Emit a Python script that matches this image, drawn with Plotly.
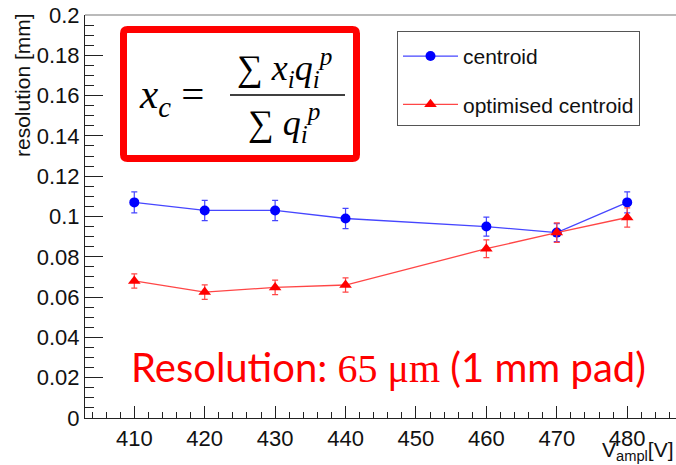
import plotly.graph_objects as go

# ---- data ----
voltage = [410, 420, 430, 440, 460, 470, 480]
centroid = [0.107, 0.103, 0.103, 0.099, 0.095, 0.092, 0.107]
centroid_err = [0.0052, 0.005, 0.005, 0.005, 0.0047, 0.0045, 0.0052]
optimised = [0.068, 0.0625, 0.0648, 0.066, 0.084, 0.092, 0.0995]
optimised_err = [0.0035, 0.0036, 0.0036, 0.0035, 0.0044, 0.0048, 0.0048]
series_names = ["centroid", "optimised centroid"]

W, H = 676, 465
L, R, T, B = 85, 0, 15, 47
PW, PH = W - L - R, H - T - B


def px(x):
    return (x - L) / PW


def py(y):
    return (H - B - y) / PH


SANS = "Liberation Sans"
SERIF = "Liberation Serif"

fig = go.Figure()
fig.add_trace(go.Scatter(
    x=voltage, y=centroid, name=series_names[0], legendgroup="a",
    mode="lines+markers",
    line=dict(color="rgb(70,70,255)", width=1.3),
    marker=dict(symbol="circle", size=10, color="#0000ff"),
    error_y=dict(type="data", array=centroid_err, color="rgb(70,70,255)", thickness=1.2, width=3),
))
fig.add_trace(go.Scatter(
    x=voltage, y=optimised, name=series_names[1], legendgroup="b",
    mode="lines+markers",
    line=dict(color="rgb(255,70,70)", width=1.3),
    marker=dict(symbol="triangle-up", size=11, color="#ff0000"),
    error_y=dict(type="data", array=optimised_err, color="rgb(255,70,70)", thickness=1.2, width=3),
))

fig.update_layout(
    width=W, height=H,
    margin=dict(l=L, r=R, t=T, b=B, pad=0),
    paper_bgcolor="white", plot_bgcolor="white",
    font=dict(family=SANS, size=20, color="#111"),
    showlegend=True,
    legend=dict(
        x=px(397), y=py(31), xanchor="left", yanchor="top",
        bordercolor="#555", borderwidth=1, bgcolor="white",
        font=dict(family=SANS, size=21, color="#111"),
        tracegroupgap=18, itemwidth=55,
        entrywidth=245, entrywidthmode="pixels",
        title=dict(text=" ", font=dict(size=3)),
    ),
)
fig.update_xaxes(
    range=[403, 486.93], showgrid=False, zeroline=False,
    showline=True, linecolor="#222", linewidth=1.2,
    ticks="inside", ticklen=12, tickwidth=1, tickcolor="#222",
    tick0=400, dtick=10,
    minor=dict(ticks="inside", ticklen=6, dtick=2, tickcolor="#222", tickwidth=1),
    tickfont=dict(family=SANS, size=22, color="#111"),
)
fig.update_yaxes(
    range=[0, 0.2], showgrid=False, zeroline=False,
    showline=True, linecolor="#222", linewidth=1.2,
    ticks="inside", ticklen=18, tickwidth=1, tickcolor="#222",
    tick0=0, dtick=0.02,
    minor=dict(ticks="inside", ticklen=9, dtick=0.005, tickcolor="#222", tickwidth=1),
    tickfont=dict(family=SANS, size=22, color="#111"),
)

shapes = []
# top frame line
shapes.append(dict(type="line", xref="paper", yref="paper", x0=0, x1=1, y0=1, y1=1,
                   line=dict(color="#777", width=1.2)))
# red formula box (rounded)
x0, x1, y0, y1, r = px(123.5), px(356.5), py(29.5), py(158.5), 4
rx, ry = r / PW, r / PH
path = (f"M {x0+rx},{y0} L {x1-rx},{y0} Q {x1},{y0} {x1},{y0-ry} "
        f"L {x1},{y1+ry} Q {x1},{y1} {x1-rx},{y1} L {x0+rx},{y1} "
        f"Q {x0},{y1} {x0},{y1+ry} L {x0},{y0-ry} Q {x0},{y0} {x0+rx},{y0} Z")
shapes.append(dict(type="path", xref="paper", yref="paper", path=path,
                   line=dict(color="#ff0000", width=7), fillcolor="white", layer="above"))
# fraction bar
shapes.append(dict(type="line", xref="paper", yref="paper", x0=px(230), x1=px(345),
                   y0=py(95), y1=py(95), line=dict(color="#000", width=1.6), layer="above"))
fig.update_layout(shapes=shapes)

ann = []
ann.append(dict(xref="paper", yref="paper", x=px(23), y=py(85), text="resolution [mm]",
                textangle=-90, showarrow=False, xanchor="center", yanchor="middle",
                font=dict(family=SANS, size=21, color="#111")))
ann.append(dict(xref="paper", yref="paper", x=px(676), y=py(451), text="V<sub>ampl</sub>[V]",
                showarrow=False, xanchor="right", yanchor="middle",
                font=dict(family=SANS, size=21, color="#111")))
ann.append(dict(xref="paper", yref="paper", x=px(137), y=py(97),
                text="<i>x<sub>c</sub></i> =", showarrow=False, xanchor="left", yanchor="middle",
                font=dict(family=SERIF, size=41, color="#000")))
ann.append(dict(xref="paper", yref="paper", x=px(284), y=py(68),
                text="∑ <i>x<sub>i</sub>q<sub>i</sub><sup>p</sup></i>", showarrow=False,
                xanchor="center", yanchor="middle",
                font=dict(family=SERIF, size=36, color="#000")))
ann.append(dict(xref="paper", yref="paper", x=px(284), y=py(123),
                text="∑ <i>q<sub>i</sub><sup>p</sup></i>", showarrow=False,
                xanchor="center", yanchor="middle",
                font=dict(family=SERIF, size=36, color="#000")))
ann.append(dict(xref="paper", yref="paper", x=px(388), y=py(367),
                text='Resolution: <span style="font-family:Liberation Serif">65 μm</span> (1 mm pad)',
                showarrow=False, xanchor="center", yanchor="middle",
                font=dict(family="Lato", size=40, color="#ff0000")))
fig.update_layout(annotations=ann)

fig.write_html("out.html")
